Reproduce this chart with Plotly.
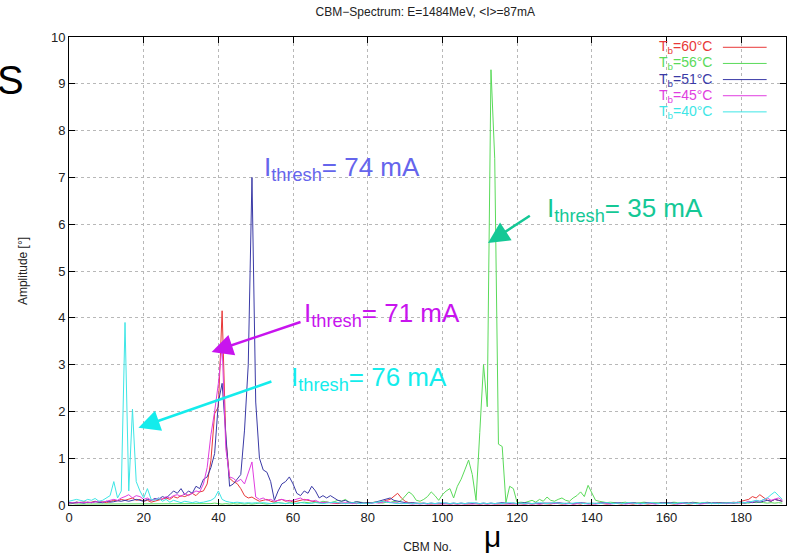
import plotly.graph_objects as go

# ---------------- data ----------------
cbm_t60 = [0.05,0.04,0.06,0.05,0.07,0.05,0.06,0.08,0.06,0.07,0.05,0.08,0.10,0.09,0.12,0.10,
           0.12,0.15,0.10,0.12,0.08,0.10,0.06,0.08,0.10,0.12,0.15,0.12,0.18,0.15,0.20,0.18,
           0.22,0.25,0.20,0.28,0.30,0.45,0.95,1.95,2.10,4.15,1.40,0.57,0.50,0.46,0.35,0.20,
           0.15,0.17,0.12,0.08,0.10,0.12,0.08,0.06,0.10,0.12,0.08,0.10,0.06,0.08,0.10,0.12,
           0.10,0.08,0.06,0.05,0.04,0.06,0.05,0.04,0.03,0.04,0.03,0.05,0.04,0.03,0.04,0.05,
           0.04,0.05,0.06,0.05,0.08,0.10,0.12,0.18,0.25,0.15,0.08,0.05,0.04,0.03,0.04,0.03,
           0.03,0.02,0.03,0.02,0.03,0.02,0.02,0.03,0.02,0.03,0.02,0.02,0.03,0.02,0.02,0.03,
           0.02,0.03,0.02,0.02,0.03,0.02,0.03,0.02,0.03,0.02,0.02,0.03,0.02,0.03,0.02,0.03,
           0.03,0.02,0.04,0.03,0.02,0.03,0.04,0.02,0.03,0.02,0.04,0.03,0.02,0.03,0.04,0.03,
           0.02,0.03,0.04,0.03,0.02,0.04,0.03,0.02,0.03,0.04,0.03,0.02,0.03,0.04,0.03,0.05,
           0.04,0.03,0.02,0.03,0.04,0.03,0.02,0.03,0.04,0.03,0.05,0.04,0.03,0.04,0.05,0.04,
           0.04,0.05,0.06,0.05,0.08,0.10,0.12,0.18,0.15,0.22,0.15,0.10,0.08,0.12,0.10,0.08]

cbm_t56 = [0.02,0.03,0.02,0.02,0.03,0.02,0.03,0.02,0.02,0.03,0.02,0.03,0.02,0.02,0.03,0.02,
           0.03,0.02,0.02,0.03,0.02,0.03,0.02,0.02,0.03,0.02,0.03,0.02,0.02,0.03,0.02,0.03,
           0.02,0.03,0.02,0.02,0.03,0.02,0.03,0.04,0.03,0.02,0.03,0.02,0.03,0.02,0.03,0.02,
           0.03,0.02,0.03,0.04,0.03,0.02,0.03,0.04,0.05,0.04,0.03,0.05,0.04,0.03,0.05,0.06,
           0.05,0.04,0.06,0.05,0.08,0.06,0.05,0.07,0.10,0.08,0.12,0.06,0.05,0.07,0.06,0.05,
           0.04,0.05,0.06,0.05,0.04,0.06,0.05,0.08,0.06,0.10,0.18,0.28,0.22,0.10,0.08,0.12,
           0.18,0.28,0.20,0.10,0.22,0.30,0.35,0.15,0.40,0.55,0.75,0.96,0.65,0.10,1.55,3.00,
           2.10,9.30,7.40,1.30,1.25,0.05,0.40,0.35,0.05,0.06,0.05,0.08,0.10,0.06,0.12,0.08,
           0.17,0.10,0.08,0.12,0.15,0.10,0.08,0.15,0.20,0.28,0.18,0.42,0.25,0.10,0.08,0.06,
           0.05,0.06,0.05,0.04,0.05,0.06,0.04,0.05,0.04,0.05,0.06,0.05,0.04,0.05,0.04,0.05,
           0.04,0.05,0.06,0.05,0.04,0.05,0.04,0.06,0.05,0.04,0.05,0.06,0.04,0.05,0.04,0.05,
           0.04,0.05,0.04,0.05,0.04,0.05,0.04,0.06,0.05,0.06,0.05,0.04,0.05,0.04,0.05,0.04]

cbm_t51 = [0.05,0.04,0.06,0.05,0.04,0.06,0.05,0.07,0.06,0.05,0.08,0.06,0.07,0.09,0.08,0.10,
           0.08,0.10,0.12,0.10,0.08,0.12,0.10,0.14,0.12,0.18,0.15,0.22,0.30,0.25,0.35,0.22,
           0.30,0.25,0.40,0.35,0.55,0.60,0.80,1.10,2.20,2.60,1.40,0.40,0.45,0.55,0.65,1.60,
           3.00,7.00,2.20,1.00,0.75,0.70,0.50,0.10,0.30,0.45,0.50,0.60,0.45,0.25,0.20,0.30,
           0.25,0.40,0.30,0.15,0.20,0.15,0.20,0.15,0.10,0.08,0.10,0.06,0.05,0.07,0.05,0.04,
           0.05,0.04,0.06,0.08,0.10,0.12,0.15,0.10,0.08,0.06,0.05,0.04,0.05,0.04,0.03,0.04,
           0.03,0.04,0.03,0.04,0.03,0.04,0.03,0.04,0.03,0.04,0.03,0.04,0.03,0.04,0.03,0.04,
           0.03,0.04,0.03,0.04,0.05,0.04,0.03,0.04,0.03,0.04,0.05,0.04,0.03,0.04,0.03,0.04,
           0.04,0.03,0.04,0.05,0.04,0.03,0.04,0.03,0.04,0.05,0.04,0.03,0.04,0.03,0.04,0.05,
           0.04,0.03,0.04,0.05,0.04,0.03,0.04,0.05,0.04,0.03,0.04,0.05,0.04,0.03,0.04,0.05,
           0.04,0.05,0.04,0.03,0.04,0.05,0.04,0.05,0.04,0.03,0.04,0.05,0.04,0.05,0.04,0.05,
           0.04,0.05,0.04,0.06,0.05,0.04,0.06,0.05,0.07,0.06,0.08,0.10,0.08,0.12,0.10,0.08]

cbm_t45 = [0.04,0.05,0.04,0.06,0.05,0.06,0.05,0.07,0.08,0.06,0.08,0.10,0.12,0.10,0.15,0.18,
           0.22,0.15,0.20,0.18,0.12,0.15,0.10,0.12,0.15,0.12,0.18,0.15,0.20,0.22,0.18,0.25,
           0.20,0.25,0.30,0.28,0.45,0.80,1.50,2.00,2.60,3.40,1.20,0.60,0.57,0.50,0.55,0.45,
           0.70,0.92,0.17,0.12,0.15,0.10,0.12,0.08,0.10,0.12,0.10,0.08,0.10,0.12,0.15,0.10,
           0.12,0.08,0.10,0.06,0.05,0.06,0.05,0.04,0.05,0.04,0.05,0.04,0.03,0.04,0.03,0.04,
           0.03,0.04,0.05,0.04,0.06,0.08,0.06,0.05,0.04,0.03,0.04,0.03,0.02,0.03,0.02,0.03,
           0.02,0.03,0.02,0.03,0.02,0.03,0.02,0.03,0.02,0.03,0.02,0.03,0.02,0.03,0.02,0.03,
           0.02,0.03,0.02,0.03,0.02,0.03,0.02,0.03,0.02,0.03,0.02,0.03,0.02,0.03,0.02,0.03,
           0.03,0.02,0.03,0.04,0.03,0.02,0.03,0.02,0.03,0.04,0.03,0.02,0.03,0.02,0.03,0.04,
           0.03,0.02,0.03,0.04,0.03,0.02,0.03,0.04,0.03,0.02,0.03,0.04,0.03,0.02,0.03,0.04,
           0.03,0.04,0.03,0.02,0.03,0.04,0.03,0.04,0.03,0.02,0.03,0.04,0.03,0.04,0.03,0.04,
           0.03,0.04,0.05,0.04,0.06,0.05,0.08,0.06,0.10,0.08,0.12,0.15,0.10,0.12,0.15,0.10]

cbm_t40 = [0.08,0.10,0.12,0.10,0.08,0.12,0.10,0.14,0.08,0.10,0.15,0.20,0.50,0.15,0.30,3.90,
           0.30,2.05,0.50,0.30,0.15,0.35,0.12,0.10,0.15,0.08,0.12,0.06,0.10,0.08,0.05,0.08,
           0.06,0.05,0.07,0.05,0.06,0.08,0.10,0.15,0.30,0.12,0.08,0.06,0.05,0.06,0.05,0.04,
           0.05,0.04,0.05,0.04,0.05,0.04,0.03,0.04,0.05,0.04,0.03,0.04,0.03,0.04,0.05,0.04,
           0.03,0.04,0.05,0.04,0.03,0.04,0.05,0.06,0.05,0.04,0.03,0.04,0.05,0.04,0.03,0.04,
           0.03,0.04,0.05,0.06,0.08,0.06,0.05,0.04,0.03,0.04,0.03,0.04,0.03,0.04,0.03,0.04,
           0.03,0.04,0.03,0.04,0.05,0.04,0.03,0.04,0.03,0.04,0.03,0.04,0.05,0.04,0.03,0.04,
           0.03,0.04,0.03,0.04,0.03,0.04,0.05,0.04,0.03,0.04,0.03,0.04,0.03,0.04,0.05,0.04,
           0.03,0.04,0.05,0.04,0.03,0.04,0.03,0.04,0.05,0.04,0.03,0.04,0.03,0.04,0.03,0.04,
           0.05,0.04,0.03,0.04,0.03,0.04,0.05,0.04,0.03,0.04,0.03,0.04,0.05,0.04,0.03,0.04,
           0.03,0.04,0.03,0.04,0.05,0.04,0.03,0.04,0.03,0.04,0.05,0.04,0.03,0.04,0.03,0.04,
           0.04,0.05,0.04,0.05,0.06,0.05,0.06,0.08,0.10,0.08,0.12,0.15,0.22,0.28,0.20,0.12]

series_names = ["T<sub>b</sub>=60°C", "T<sub>b</sub>=56°C", "T<sub>b</sub>=51°C",
                "T<sub>b</sub>=45°C", "T<sub>b</sub>=40°C"]
series_values = [cbm_t60, cbm_t56, cbm_t51, cbm_t45, cbm_t40]
series_colors = ["#e83838", "#5ada5a", "#3a3aa6", "#e03ee0", "#3ee6e6"]

x_ticks = [0, 20, 40, 60, 80, 100, 120, 140, 160, 180]
y_ticks = [0, 1, 2, 3, 4, 5, 6, 7, 8, 9, 10]

# threshold annotations: (text, color, text x, text y, arrow head x, y, arrow tail x, y)
thresh_labels = [
    ("I<sub>thresh</sub>= 74 mA", "#6565ec", 51.6, 7.18, None, None, None, None),
    ("I<sub>thresh</sub>= 35 mA", "#14c896", 127.4, 6.31, 112.2, 5.6, 123.8, 6.2),
    ("I<sub>thresh</sub>= 71 mA", "#c814ee", 62.4, 4.08, 38.2, 3.27, 62.4, 3.92),
    ("I<sub>thresh</sub>= 76 mA", "#14ecec", 59.0, 2.70, 18.6, 1.65, 54.6, 2.65),
]

FONT = "Liberation Sans, Arial, sans-serif"

fig = go.Figure()
for name, vals, col in zip(series_names, series_values, series_colors):
    fig.add_trace(go.Scatter(x=list(range(len(vals))), y=vals, mode="lines", name=name,
                             line=dict(color=col, width=1), showlegend=False))

annotations = []
shapes = []

# custom legend (text then line sample, as in the reference)
for i, (name, col) in enumerate(zip(series_names, series_colors)):
    yp = 0.978 - i * 0.0345
    annotations.append(dict(xref="paper", yref="paper", x=0.899, y=yp, text=name,
                            showarrow=False, xanchor="right", yanchor="middle",
                            font=dict(family=FONT, size=14, color=col)))
    shapes.append(dict(type="line", xref="paper", yref="paper", x0=0.912, x1=0.973,
                       y0=yp, y1=yp, line=dict(color=col, width=1)))

for text, col, tx, ty, hx, hy, ax, ay in thresh_labels:
    annotations.append(dict(x=tx, y=ty, xref="x", yref="y", text=text, showarrow=False,
                            xanchor="left", yanchor="middle",
                            font=dict(family=FONT, size=26, color=col)))
    if hx is not None:
        annotations.append(dict(x=hx, y=hy, xref="x", yref="y", ax=ax, ay=ay,
                                axref="x", ayref="y", text="", showarrow=True,
                                arrowhead=2, arrowsize=1.7, arrowwidth=2.5,
                                arrowcolor=col))

# slide fragments around the chart
annotations.append(dict(xref="paper", yref="paper", x=0.590, y=-0.068, text="μ",
                        showarrow=False, xanchor="center", yanchor="middle",
                        font=dict(family=FONT, size=30, color="black")))
annotations.append(dict(xref="paper", yref="paper", x=-0.082, y=0.908, text="S",
                        showarrow=False, xanchor="center", yanchor="middle",
                        font=dict(family=FONT, size=40, color="black")))

axis_common = dict(showline=True, linecolor="black", linewidth=1, mirror="ticks",
                   ticks="inside", ticklen=6, tickcolor="black", tickwidth=1,
                   showgrid=True, gridcolor="#b8b8b8", griddash="dot", gridwidth=1,
                   zeroline=False, automargin=False,
                   tickfont=dict(family=FONT, size=13, color="#222"))

fig.update_layout(
    width=792, height=554,
    margin=dict(l=69, r=6, t=37, b=49),
    paper_bgcolor="white", plot_bgcolor="white",
    title=dict(text="CBM−Spectrum: E=1484MeV, &lt;I&gt;=87mA", x=0.537, xanchor="center",
               y=0.978, yanchor="middle", font=dict(family=FONT, size=12, color="#222")),
    xaxis=dict(range=[0, 192], tickvals=x_ticks,
               title=dict(text="CBM No.", font=dict(family=FONT, size=12, color="#222"),
                          standoff=19), **axis_common),
    yaxis=dict(range=[0, 10], tickvals=y_ticks,
               title=dict(text="Amplitude [°]", font=dict(family=FONT, size=12, color="#222"),
                          standoff=20), **axis_common),
    annotations=annotations, shapes=shapes,
)

fig.write_html("out.html")
